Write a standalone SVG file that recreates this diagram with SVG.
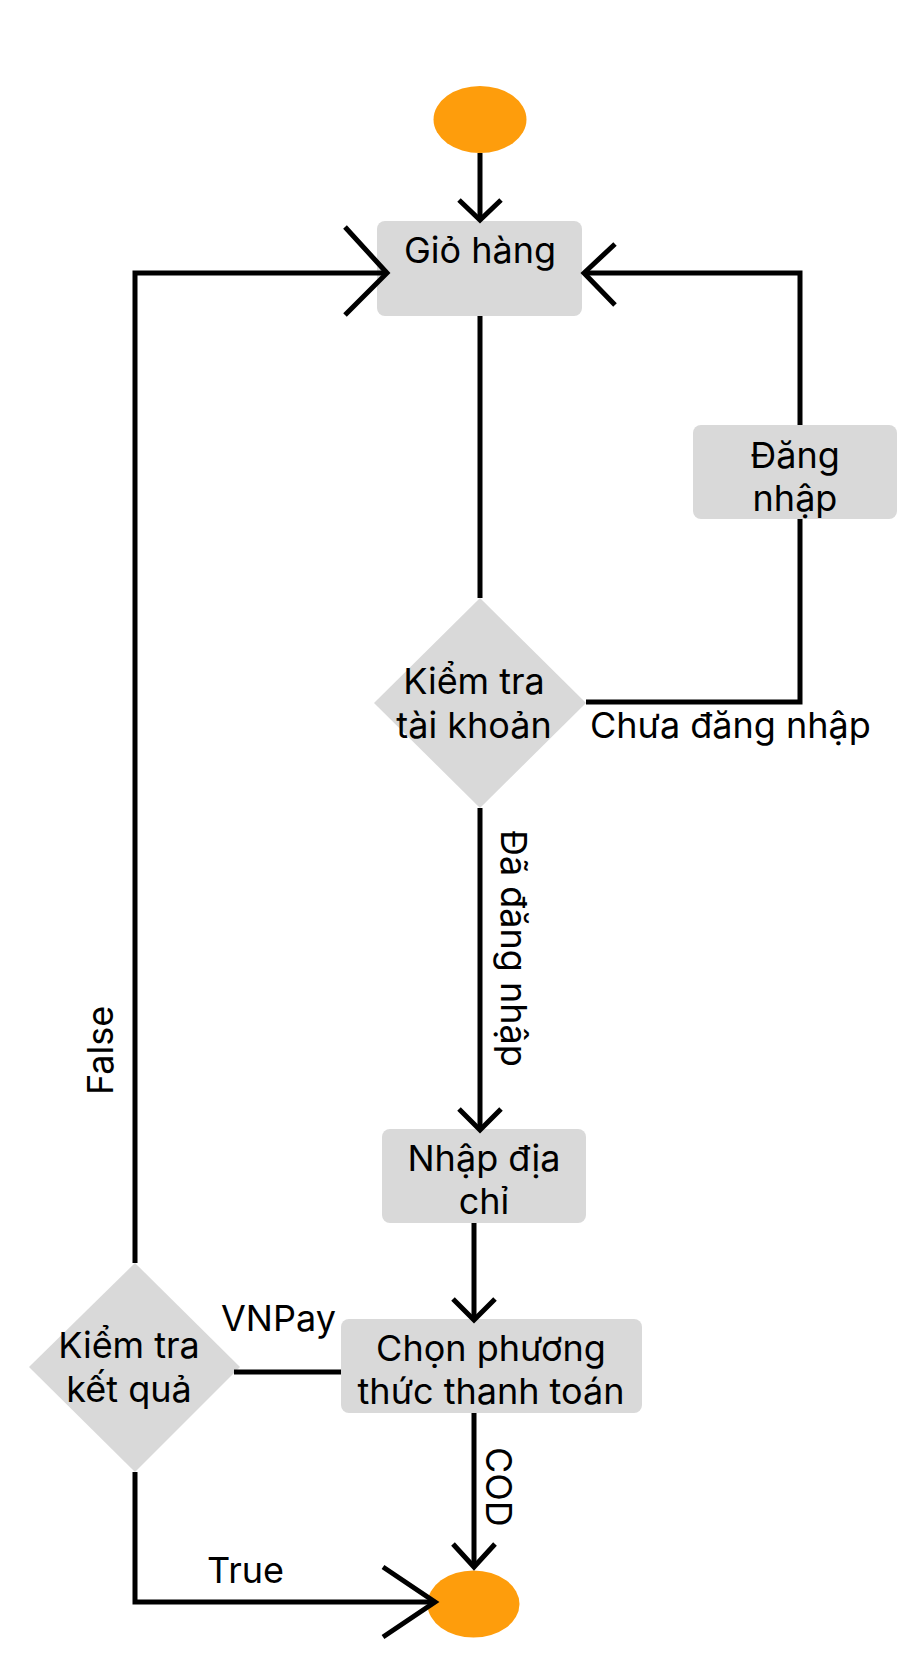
<svg xmlns="http://www.w3.org/2000/svg" width="905" height="1665" viewBox="0 0 905 1665">
<style>
.bg{fill:#ffffff}
.term{fill:#fe9d0c}
.box{fill:#d9d9d9}
.t{font-family:Inter,"Noto Sans","Liberation Sans",sans-serif;font-size:36px;fill:#000000}
.m{text-anchor:middle}
.ln{fill:none;stroke:#000000;stroke-width:5;stroke-linecap:butt;stroke-linejoin:miter}
</style>
<rect class="bg" x="0" y="0" width="905" height="1665"/>
<g id="start"><ellipse class="term" cx="480" cy="119.5" rx="46.5" ry="33.5"/></g>
<g id="gio-hang">
<rect class="box" x="377" y="221" width="205" height="95" rx="8"/>
<text class="t m" x="480" y="263">Giỏ hàng</text>
</g>
<g id="dang-nhap">
<rect class="box" x="693" y="425" width="204" height="94" rx="8"/>
<text class="t m" x="795" y="468">Đăng</text>
<text class="t m" x="795" y="511">nhập</text>
</g>
<g id="kiem-tra-tai-khoan">
<polygon class="box" points="480,598 586,703 480,808 374,703"/>
<text class="t m" x="474" y="694">Kiểm tra</text>
<text class="t m" x="474" y="738">tài khoản</text>
</g>
<g id="nhap-dia-chi">
<rect class="box" x="382" y="1129" width="204" height="94" rx="8"/>
<text class="t m" x="484" y="1171">Nhập địa</text>
<text class="t m" x="484" y="1214">chỉ</text>
</g>
<g id="chon-phuong-thuc">
<rect class="box" x="341" y="1319" width="301" height="94" rx="8"/>
<text class="t m" x="491" y="1361">Chọn phương</text>
<text class="t m" x="491" y="1404">thức thanh toán</text>
</g>
<g id="kiem-tra-ket-qua">
<polygon class="box" points="135,1263 240,1367 135,1472 29,1367"/>
<text class="t m" x="129" y="1358">Kiểm tra</text>
<text class="t m" x="129" y="1402">kết quả</text>
</g>
<g id="end"><ellipse class="term" cx="473.5" cy="1604" rx="46" ry="33.5"/></g>
<g id="connectors">
<line class="ln" x1="480" y1="153" x2="480" y2="220"/>
<polyline class="ln" points="459,200 480,220 501,200"/>
<line class="ln" x1="480" y1="316" x2="480" y2="598"/>
<polyline class="ln" points="586,702 800,702 800,519"/>
<polyline class="ln" points="800,425 800,273 584,273"/>
<polyline class="ln" points="615,244 584,273 615,305"/>
<text class="t" x="590" y="738">Chưa đăng nhập</text>
<line class="ln" x1="480" y1="808" x2="480" y2="1130"/>
<polyline class="ln" points="459,1109 480,1130 501,1109"/>
<text class="t" transform="translate(501,830) rotate(90)">Đã đăng nhập</text>
<line class="ln" x1="474" y1="1223" x2="474" y2="1320"/>
<polyline class="ln" points="453,1299 474,1320 495,1299"/>
<line class="ln" x1="474" y1="1413" x2="474" y2="1567"/>
<polyline class="ln" points="453,1544 474,1567 495,1544"/>
<text class="t" transform="translate(485.5,1447) rotate(90)">COD</text>
<line class="ln" x1="234" y1="1372" x2="341" y2="1372"/>
<text class="t" x="221" y="1331">VNPay</text>
<polyline class="ln" points="135,1263 135,273 387,273"/>
<polyline class="ln" points="345,227 387,273 345,315"/>
<text class="t" transform="translate(112.5,1095) rotate(-90)">False</text>
<polyline class="ln" points="135,1472 135,1602 435,1602"/>
<polyline class="ln" points="383,1567 435,1602 383,1637"/>
<text class="t" x="207" y="1583">True</text>
</g>
</svg>
